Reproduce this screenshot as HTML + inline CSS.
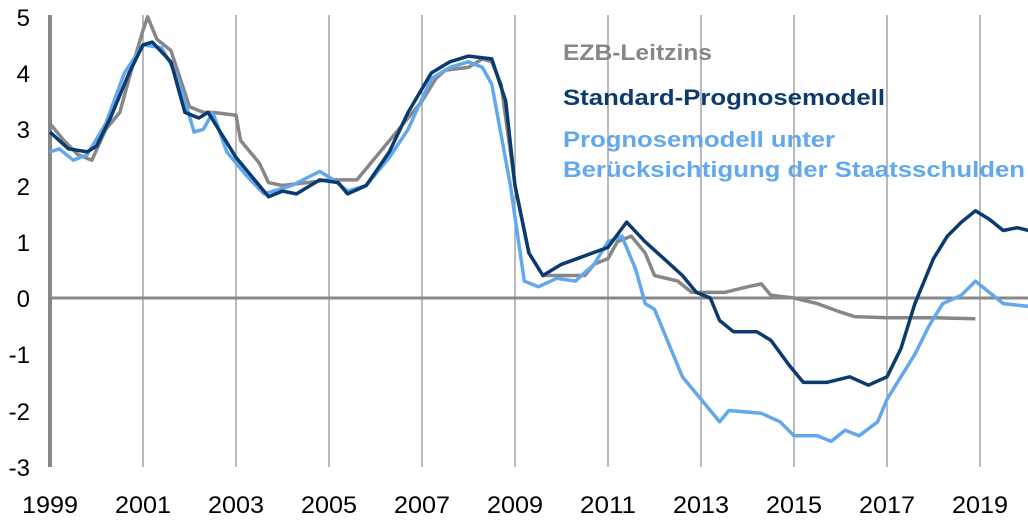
<!DOCTYPE html>
<html><head><meta charset="utf-8"><style>
body{margin:0;background:#fff;}
svg text{font-family:"Liberation Sans",Arial,sans-serif;}
</style></head><body>
<svg id="s" width="1028" height="516" xmlns="http://www.w3.org/2000/svg">
<g fill="#000" font-size="24" text-anchor="end">
<text x="30" y="26">5</text><text x="30" y="82">4</text><text x="30" y="138">3</text><text x="30" y="195">2</text>
<text x="30" y="251">1</text><text x="30" y="307">0</text><text x="30" y="363">-1</text><text x="30" y="420">-2</text><text x="30" y="476">-3</text>
</g>
<g id="grid" stroke="#8c8c8c" stroke-width="1.2"></g>
<g id="xl" font-size="24" text-anchor="middle" fill="#000"></g>
<line x1="50" y1="298" x2="1028" y2="298" stroke="#878787" stroke-width="3"/>
<line x1="50" y1="15" x2="50" y2="467" stroke="#878787" stroke-width="4"/>
<polyline id="g" fill="none" stroke="#878787" stroke-width="3.5" stroke-linejoin="round"/>
<polyline id="l" fill="none" stroke="#62a8ec" stroke-width="3.5" stroke-linejoin="round"/>
<polyline id="d" fill="none" stroke="#0b3a6e" stroke-width="3.5" stroke-linejoin="round"/>
<g font-size="22" font-weight="bold">
<text x="563" y="60" fill="#878787" textLength="149" lengthAdjust="spacingAndGlyphs">EZB-Leitzins</text>
<text x="563" y="105" fill="#0b3a6e" textLength="322" lengthAdjust="spacingAndGlyphs">Standard-Prognosemodell</text>
<text x="563" y="147" fill="#62a8ec" textLength="272" lengthAdjust="spacingAndGlyphs">Prognosemodell unter</text>
<text x="563" y="177" fill="#62a8ec" textLength="462" lengthAdjust="spacingAndGlyphs">Berücksichtigung der Staatsschulden</text>
</g>
</svg>
<script>
function X(t){return 50+46.5*(t-1999);}function Y(v){return 298-56.25*v;}
var grid=document.getElementById('grid'),xl=document.getElementById('xl'),ns='http://www.w3.org/2000/svg';
for(var yr=1999;yr<=2019;yr+=2){var x=X(yr);
if(yr>1999){var ln=document.createElementNS(ns,'line');ln.setAttribute('x1',x);ln.setAttribute('x2',x);ln.setAttribute('y1',15);ln.setAttribute('y2',467);grid.appendChild(ln);}
var t=document.createElementNS(ns,'text');t.setAttribute('x',x);t.setAttribute('y',513);t.setAttribute('textLength',56);t.setAttribute('lengthAdjust','spacingAndGlyphs');t.textContent=yr;xl.appendChild(t);}
function set(id,a){var p=[];for(var i=0;i<a.length;i+=2)p.push(X(a[i]).toFixed(1)+','+Y(a[i+1]).toFixed(1));document.getElementById(id).setAttribute('points',p.join(' '));}
set('g',[1999,3.1,1999.3,2.8,1999.6,2.55,1999.9,2.45,2000.2,3.0,2000.5,3.3,2000.8,4.2,2001.0,4.76,2001.1,5.0,2001.3,4.6,2001.6,4.4,2001.8,3.9,2002.0,3.4,2002.3,3.3,2002.5,3.3,2003.0,3.25,2003.1,2.8,2003.5,2.4,2003.7,2.05,2004,2.0,2004.5,2.05,2005,2.1,2005.6,2.1,2006,2.5,2006.5,3.0,2007,3.5,2007.3,3.9,2007.5,4.05,2008,4.1,2008.3,4.25,2008.5,4.2,2008.7,3.8,2009,2.0,2009.3,0.8,2009.6,0.4,2010,0.4,2010.5,0.4,2010.7,0.6,2011.0,0.7,2011.2,1.0,2011.5,1.1,2011.8,0.8,2012,0.4,2012.5,0.3,2012.8,0.1,2013.5,0.1,2014,0.2,2014.3,0.25,2014.5,0.05,2015,0.0,2015.5,-0.1,2016,-0.25,2016.3,-0.33,2017,-0.35,2018,-0.35,2018.9,-0.37]);
set('d',[1999,2.95,1999.4,2.65,1999.8,2.6,2000.0,2.7,2000.3,3.2,2000.7,4.0,2001.0,4.5,2001.2,4.55,2001.6,4.2,2001.9,3.3,2002.2,3.2,2002.4,3.3,2002.7,2.9,2003.0,2.5,2003.5,2.0,2003.7,1.8,2004,1.9,2004.3,1.85,2004.8,2.1,2005.2,2.05,2005.4,1.85,2005.8,2.0,2006.3,2.6,2006.7,3.3,2007.2,4.0,2007.6,4.2,2008,4.3,2008.5,4.25,2008.8,3.5,2009,2.0,2009.3,0.8,2009.6,0.4,2010,0.6,2010.5,0.75,2011,0.9,2011.4,1.35,2011.8,1.0,2012.2,0.7,2012.6,0.4,2012.9,0.1,2013.2,0.0,2013.4,-0.4,2013.7,-0.6,2014.2,-0.6,2014.5,-0.75,2014.9,-1.2,2015.2,-1.5,2015.7,-1.5,2016.2,-1.4,2016.6,-1.55,2017.0,-1.4,2017.3,-0.9,2017.6,-0.1,2018,0.7,2018.3,1.1,2018.6,1.35,2018.9,1.55,2019.2,1.4,2019.5,1.2,2019.8,1.25,2020.05,1.2]);
set('l',[1999,2.6,1999.2,2.65,1999.5,2.45,1999.8,2.55,2000.2,3.1,2000.6,4.0,2001.0,4.5,2001.4,4.45,2001.7,4.0,2001.9,3.5,2002.1,2.95,2002.3,3.0,2002.5,3.3,2002.8,2.6,2003.2,2.2,2003.6,1.85,2003.8,1.9,2004.2,2.0,2004.8,2.25,2005.1,2.1,2005.4,1.9,2005.8,2.0,2006.3,2.5,2006.7,3.0,2007.2,3.9,2007.6,4.1,2008,4.2,2008.3,4.1,2008.5,3.8,2008.9,2.0,2009.2,0.3,2009.5,0.2,2009.9,0.35,2010.3,0.3,2010.7,0.6,2011.0,1.0,2011.3,1.1,2011.6,0.5,2011.8,-0.1,2012.0,-0.2,2012.3,-0.8,2012.6,-1.4,2013,-1.8,2013.4,-2.2,2013.6,-2.0,2014.3,-2.05,2014.7,-2.2,2015,-2.45,2015.5,-2.45,2015.8,-2.55,2016.1,-2.35,2016.4,-2.45,2016.8,-2.2,2017.0,-1.8,2017.3,-1.4,2017.6,-1.0,2017.9,-0.5,2018.2,-0.1,2018.6,0.05,2018.9,0.3,2019.2,0.1,2019.5,-0.1,2020.05,-0.15]);
</script>
</body></html>
